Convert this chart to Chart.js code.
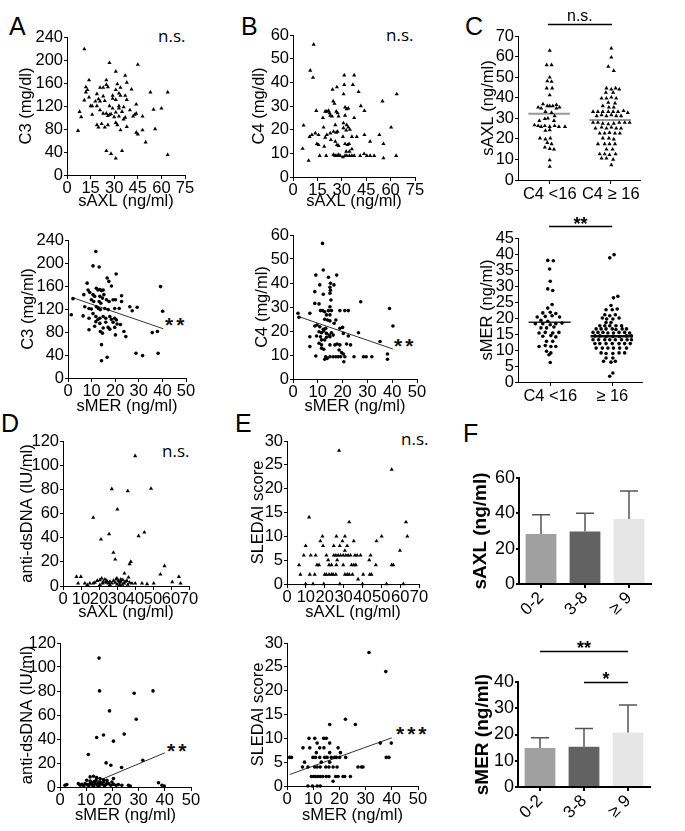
<!DOCTYPE html>
<html>
<head>
<meta charset="utf-8">
<title>sAXL / sMER panels</title>
<script src="https://cdn.jsdelivr.net/npm/chart.js@4.4.1/dist/chart.umd.min.js"></script>
<style>
body { margin: 0; background: #fff; width: 685px; height: 831px; position: relative; overflow: hidden; font-family: "Liberation Sans", Arial, sans-serif; }
canvas { position: absolute; }
.letter { position: absolute; font-size: 25px; line-height: 25px; color: #000; }
.ns { position: absolute; font-family: "Open Sans", sans-serif; font-size: 17px; line-height: 17px; color: #000; }
.stars { position: absolute; font-size: 21px; line-height: 21px; font-weight: bold; color: #111; letter-spacing: 3px; }
</style>
</head>
<body>
<div class="letter" style="left:9px;top:14px">A</div>
<div class="letter" style="left:241px;top:14px">B</div>
<div class="letter" style="left:465px;top:14px">C</div>
<div class="letter" style="left:1px;top:411px">D</div>
<div class="letter" style="left:235px;top:411px">E</div>
<div class="letter" style="left:463px;top:421px">F</div>
<div class="ns" style="left:158px;top:27px">n.s.</div>
<div class="ns" style="left:386px;top:26px">n.s.</div>
<div class="ns" style="left:162px;top:442px">n.s.</div>
<div class="ns" style="left:401px;top:430px">n.s.</div>
<div class="stars" style="left:165px;top:314px">**</div>
<div class="stars" style="left:394px;top:335px">**</div>
<div class="stars" style="left:167px;top:740px">**</div>
<div class="stars" style="left:396px;top:723px">***</div>
<script>
// ---- data ----
// A: C3 vs sAXL / sMER
var c3VsAxl = [[11,219],[27,195],[45,192],[31,180],[37,173],[14,165],[25,165],[32,158],[38,161],[21,152],[23,152],[12,153],[13,148],[25,157],[26,153],[34,152],[41,149],[31,148],[53,144],[64,144],[12,144],[19,141],[14,135],[23,137],[29,138],[29,133],[31,131],[34,138],[37,138],[38,131],[11,130],[20,132],[21,128],[24,129],[15,120],[16,120],[8,110],[19,120],[27,120],[33,120],[33,116],[36,118],[40,113],[44,123],[55,114],[60,116],[9,101],[16,105],[21,113],[25,107],[26,103],[27,105],[28,106],[30,101],[31,109],[33,102],[36,97],[37,100],[42,102],[43,105],[44,107],[48,102],[7,77],[19,87],[20,83],[22,89],[24,83],[26,87],[31,91],[32,87],[34,78],[38,84],[44,74],[45,71],[48,78],[56,80],[50,57],[25,42],[28,37],[31,29],[35,42],[64,35],[23,107],[29,116],[35,110],[18,128],[33,142]];
var c3VsMer = [[11.8,220],[10.6,195],[13.2,193],[20.4,181],[16.6,174],[17.3,168],[18.4,160],[8.1,165],[12,156],[12.7,153],[13.5,154],[14.2,152],[14.9,153],[8.5,153],[9.2,149],[6.7,145],[10.6,145],[11.3,142],[13.5,142],[14.6,139],[22.7,143],[15.2,145],[9.9,136],[10.9,133],[13.2,133],[13.9,130],[16.3,136],[17.4,133],[19.1,136],[20.1,136],[22.7,133],[1.4,110],[2.1,138],[7.1,124],[8.9,121],[9.9,120],[12,124],[12.9,121],[13.7,119],[15.6,121],[17,119],[19.8,121],[21.7,121],[26.2,124],[27.2,117],[29.3,123],[6.4,108],[8.9,104],[10.6,112],[11.8,107],[12.7,102],[13.5,104],[14.9,107],[16,104],[17.7,107],[18.4,102],[19.8,104],[20.5,101],[11.8,98],[13.5,95],[16,97],[19.1,97],[20.8,94],[22.2,93],[40.1,116],[39.2,159],[8.9,84],[11.3,90],[14.9,87],[17,88],[17.7,85],[19.8,88],[23.7,81],[24.5,72],[20.1,75],[13.7,81],[14.6,78],[35.7,79],[37.9,81],[14.2,58],[16.6,36],[14.2,30],[28.8,43],[31.6,39],[38.2,43]];
var c3Fit = [[1.8,140],[40.4,85.6]];

// B: C4 vs sAXL / sMER
var c4VsAxl = [[12.7,56],[10.6,45],[12.3,42],[31.5,43],[37.6,43],[31.5,39],[36.8,39],[24.3,37],[27,38],[40.3,36],[31.1,35],[63.8,35],[24.7,32],[25.5,31],[55,32],[41.7,30],[32,29.5],[33,28.7],[34,29],[43.9,28],[14.3,28],[19.8,27.7],[20.8,27.7],[21.9,28],[22.5,27],[26.6,27.7],[27.4,27],[18.4,25],[22.9,26],[24,25.6],[28,25.6],[32,26],[37.6,25],[31,22.8],[33,22],[34,21],[26,22],[6.5,21.8],[60.3,21],[18.8,21],[24.9,19.2],[26.6,18.8],[27.4,19.2],[31,20.7],[32.7,19.7],[10.2,17],[11.6,17.8],[13.7,18.5],[15.7,17.8],[20.8,17.8],[22.9,18.5],[35,20],[30.7,17],[36.2,17],[39.2,17],[19.8,16.7],[23.3,15.7],[43.9,17.8],[53.1,17.8],[5.9,12],[14.7,14],[15.7,13.6],[19.2,12.9],[26,15],[27,13.6],[28,13.2],[32,14],[33.5,13.6],[34.5,14],[47.4,15],[55.6,14],[9.6,6.9],[16.4,9],[20.4,9],[24.9,9.4],[26,9],[27,9],[28,9.4],[29,9],[30.7,8.4],[32,9],[33,9],[34.7,9],[36.2,9],[37.6,9],[32.7,10.8],[34.7,10.8],[36.2,11.8],[41.3,9],[43.7,9.8],[45.4,9],[47.4,9],[49.9,9],[55.6,8],[63.4,9]];
var c4VsMer = [[11.9,56.5],[12.2,45.4],[9.2,43.3],[17.6,43.3],[14.3,42.4],[15.1,39.9],[10.8,39.2],[16.5,39.2],[14.9,38.2],[15.1,37],[8.8,36.4],[12.2,35.3],[14.9,35.7],[15.3,32.9],[27.3,32.2],[8.8,31.5],[10.5,31.3],[14.9,30.1],[38.9,29.4],[11.1,28.5],[11.9,28.5],[12.8,28],[14.3,28.5],[15.5,28.5],[18.9,28.5],[20.9,28.5],[22.3,28.5],[2,27.4],[6.8,27.4],[13.5,26.7],[14.9,26.7],[2.4,25.7],[12.8,24.9],[13.9,24.6],[14.9,24.2],[17.3,24.6],[16.6,23.2],[8.8,22.1],[9.7,22.5],[10.8,21.8],[40.3,22.1],[12.2,20.7],[13.2,21.1],[18.9,21.1],[20,21.5],[10.5,19.7],[11.5,19.3],[12.4,20],[13.5,19],[14.6,18.3],[15.5,19.3],[20.3,19],[26.4,19.3],[9.5,17.9],[11.1,17.6],[13.5,17.4],[14.9,17.6],[16.2,18.3],[22.3,17.9],[6.8,17.6],[11.5,16.3],[12.8,16.3],[35.1,15.6],[10.5,14.9],[11.5,14.2],[14.9,14.2],[16.9,14.2],[17.8,14.6],[18.9,14.2],[21.6,14.6],[23.2,14.2],[6.8,13.5],[11.5,12.8],[12.4,12.4],[18.6,12.1],[19.6,11],[9.2,9.6],[13.2,9.3],[12.8,8.2],[13.8,8.6],[14.9,9.3],[16.2,9.3],[17.3,9.3],[18.2,9.3],[19.2,9.3],[20.3,10.4],[20.9,9.3],[20.5,7.2],[24.6,9.3],[28.4,9.3],[29.5,9.3],[31.8,9.3],[38.1,10.4],[38.1,8.2]];
var c4Fit = [[2.3,26],[40.3,12.5]];

// C: column scatter, [jitter offset, value]
var groupLabels = ["C4 <16", "C4 \u2265 16"];
var groupLabels2 = ["C4 <16", "\u2265 16"];
var axlLowC4 = [[0,62.9],[-0.05,55.9],[0.03,55.9],[0,49.9],[-0.04,48.1],[0.03,47.8],[-0.05,44.6],[0.04,44.6],[0,41.3],[-0.11,36.9],[-0.04,36],[0,36],[0.05,36],[0.11,36.5],[-0.19,35.3],[-0.14,34.8],[0.11,34.8],[0.16,35.3],[-0.07,33.2],[0.03,32.7],[0.08,31.1],[-0.08,29.7],[-0.03,30],[-0.17,28.8],[0.07,28.8],[-0.25,26.7],[-0.19,26.3],[-0.14,25.9],[-0.08,26.3],[0,25.9],[0.08,26.3],[0.15,25.9],[0.25,25.9],[-0.07,24],[0,24.3],[-0.16,20.3],[-0.07,19.8],[0.01,20.3],[-0.04,18.1],[0.03,17.5],[-0.08,15.9],[0,15.2],[0.07,14.9],[0,9.7],[0,6.5]];
var axlHighC4 = [[0.01,64],[0.01,59.6],[-0.04,55.1],[0.05,53.1],[-0.07,44.6],[0.01,44.1],[0.08,44.6],[0.14,44.1],[-0.08,42.5],[0.04,42.5],[-0.15,39.7],[-0.07,39.7],[0.01,40.2],[0.09,39.7],[-0.04,37.6],[0.07,37.3],[-0.13,36],[-0.03,35.3],[0.05,35.3],[-0.29,33.2],[-0.21,33.2],[-0.13,33.2],[-0.04,33.2],[0.04,33.2],[0.12,33.2],[0.21,33.6],[0.28,32.7],[-0.23,31.1],[-0.15,31.6],[-0.07,31.1],[0.01,31.6],[0.09,31.1],[0.17,31.1],[-0.29,27.9],[-0.21,27.9],[-0.13,27.5],[-0.04,27.2],[0.05,27.5],[0.14,27.9],[0.23,27.9],[0.31,27.9],[-0.25,25.1],[-0.15,25.6],[-0.07,25.1],[0.01,25.6],[0.09,25.1],[0.17,25.1],[-0.18,22.7],[-0.1,22.7],[-0.02,23],[0.07,22.7],[0.15,22.7],[-0.13,20.3],[-0.03,20.3],[0.05,19.8],[-0.21,17.5],[-0.1,17.5],[-0.02,17.5],[0.07,17.5],[-0.07,14.9],[0.03,14.9],[-0.18,12.6],[-0.1,12.6],[-0.02,12.2],[0.08,12.6],[-0.15,10.5],[-0.07,10.5],[0.04,10],[0.01,7.3]];
var axlMeans = [32.2, 29.2];
var merLowC4 = [[-0.04,38],[0.05,37.9],[-0.01,35.3],[0,31.5],[-0.04,29.1],[0.04,28.6],[0.03,24.2],[-0.04,23.1],[-0.12,21.6],[0,21.8],[0.09,21.4],[-0.21,20.3],[-0.08,20.5],[0.03,20.7],[0.15,20.3],[-0.15,19.3],[-0.04,19],[-0.24,18.2],[-0.12,18.2],[0,17.9],[0.09,18.2],[0.19,18.4],[-0.15,16.9],[-0.06,16.9],[0.06,17.2],[-0.18,15.3],[-0.08,15.5],[0.04,15.3],[0.14,15.5],[-0.12,14.3],[0.01,14.5],[0.09,14.1],[-0.06,12.7],[0.04,12.7],[-0.18,11.1],[-0.08,11.4],[0.01,11.1],[0.09,11.1],[-0.06,9.6],[0.01,9.1],[-0.02,8.5],[0,6.1]];
var merHighC4 = [[-0.04,38.8],[0.03,39.8],[0.02,26.3],[0.09,26.8],[-0.02,23.9],[-0.1,22.6],[0,22.6],[0.08,22.8],[-0.12,21],[-0.04,20.7],[0.05,21],[-0.16,20],[-0.09,19.7],[0.01,19.7],[0.11,20],[-0.1,18.6],[-0.02,18.6],[-0.2,17.6],[-0.12,17.6],[-0.04,17.6],[0.06,17.6],[0.15,17.6],[-0.26,16.6],[-0.18,16.6],[-0.1,16.6],[0,16.6],[0.06,16.4],[0.16,16.6],[0.23,16.6],[-0.31,15.5],[-0.23,15.5],[-0.15,15.5],[-0.07,15.3],[0.02,15.3],[0.11,15.5],[0.2,15.5],[0.28,15.3],[-0.28,14.4],[-0.2,14.4],[-0.1,14.2],[0.01,14.2],[0.12,14.2],[0.23,14.4],[0.31,14.4],[-0.31,13.2],[-0.22,13.2],[-0.12,13.2],[-0.04,13.2],[0.05,13.2],[0.15,13.2],[0.24,13.2],[0.31,13.2],[-0.28,12],[-0.2,12],[-0.1,12],[0,12],[0.11,12],[0.2,12],[0.29,12],[-0.26,10.6],[-0.16,10.6],[-0.07,10.6],[0.02,10.6],[0.12,10.6],[0.23,10.6],[-0.18,9.1],[-0.1,8.9],[0.01,8.9],[0.11,9.1],[0.2,9.1],[-0.1,7.5],[0.01,7.5],[-0.14,6.5],[-0.02,6.2],[0.05,6.5],[0.01,2.8],[-0.04,1.8]];
var merMeans = [18.7, 14.3];

// D: anti-dsDNA
var dnaVsAxl = [[40.1,107.6],[27.1,80.3],[36,78.6],[48.9,80.6],[30.2,63.4],[16.8,56.6],[25.6,43],[45.2,44.4],[42,41.4],[21.1,38.6],[28,27.6],[29,22],[37.7,20.1],[37,18.2],[56.4,16.6],[34.1,10.5],[54.1,9.7],[7.5,7.7],[9.9,7.7],[64.4,7.7],[36.4,7.2],[20.5,5],[22.4,3.6],[24.3,4.4],[26.1,3.6],[28,4.4],[29.5,5.5],[30.8,4.4],[32.1,3.6],[33.2,5],[34.5,3.6],[35.5,4.4],[37,2.8],[38.3,2.2],[40.1,2.2],[43.9,2.2],[46.7,1.7],[50.4,2.2],[12.1,2.2],[14.9,2.2],[8.4,2.2],[17.7,2.8],[19,4.4],[21.5,6.3],[23.3,5.5],[25.2,2.2],[27.1,2.2],[28.9,2.8],[31.4,2.8],[34,2.2],[16.8,2.2],[65.3,2.2],[60.7,3.3],[32.1,5.5],[29.9,6.3],[13.5,1],[20.5,1],[26,1],[31.5,1],[24,2.8],[22,2.2],[36,1.2],[30,1.5],[33,1.2]];
var dnaVsMer = [[14.9,107.4],[15.1,80.1],[28.3,78.1],[35.5,80.1],[18.9,63.4],[29.1,56.4],[16.6,43.3],[24.5,44.1],[14,41.3],[20.4,38.2],[10.8,27.1],[17.6,20.1],[19.4,18.1],[23.5,16.2],[31.6,22.3],[12.8,8.9],[14,7.8],[15.3,7],[10.2,5.6],[11.5,5],[16.6,6.1],[17.9,5.6],[20.4,7],[19.8,4.2],[1.9,1.4],[2.6,2],[7,2.8],[7.7,1.4],[8.3,2.2],[9.6,2.8],[10.5,2],[11.5,2.8],[12.5,1.4],[13.4,2.8],[14.3,1.4],[15.3,2.2],[15.9,2.8],[16.8,1.4],[17.6,2.2],[18.5,2.8],[19.4,1.4],[20.4,2.2],[21.4,1.4],[22.3,2],[23.6,1.4],[26.1,1.4],[26.8,0.8],[37.6,3.6],[38.9,1.4],[39.8,0.8],[15.3,4.2],[16.6,4.2],[11.5,8.4],[12,3.5],[13,4.5],[14.5,3.2],[12.8,0.6],[14.8,0.6],[17,0.8],[18,3.6],[11,1],[9,1.2],[13.8,5.8]];
var dnaFit = [[9.5,0.5],[40,28.5]];

// E: SLEDAI score
var sledaiVsAxl = [[27.6,28],[55.5,24],[11.7,14],[33,13],[63.1,13],[50.2,10],[63.8,10],[18.8,10],[26.2,10],[30.7,10],[17.7,9],[29.4,9],[35.4,9],[47.5,9],[9.9,8],[19.1,8],[24.8,8],[28,8],[31.9,8],[30.7,7],[59.9,7],[8.9,6],[12.6,6],[15.2,6],[20.9,6],[24.8,6],[25.9,6],[27.1,6],[28.4,6],[29.8,6],[31.2,6],[32.4,6],[33.7,6],[36,6],[37.2,6],[39,6],[44.3,6],[21.8,5],[26.6,5],[43.6,5],[6.4,4],[15.9,4],[17,4],[22.3,4],[23.6,4],[26.2,4],[29.8,4],[34.2,4],[35.4,4],[36.5,4],[47.1,4],[55.5,4],[56.4,4],[7.1,2],[12.1,2],[14.7,2],[20,2],[20.9,2],[22.3,2],[23.6,2],[24.5,2],[25.9,2],[30.7,2],[31.9,2],[33,2],[34.7,2],[40.4,2],[43.9,2],[44.8,2],[37.7,1],[9.9,0],[13.8,0],[19.5,0],[28,0],[40,0],[52.8,0],[61.7,0]];
var sledaiVsMer = [[31.3,28],[37.7,24],[22.3,14],[26.1,12.9],[16.3,12.9],[39.8,9],[35.6,9],[37.9,6],[38.9,6],[8.4,10],[10.6,10],[14,10],[15,10],[11.5,9],[16.3,9],[6.1,8],[8.7,8],[12.5,8],[14.1,8],[19.5,8],[11.2,7],[16.3,7],[20.4,7],[1,6],[1.7,6],[9.9,6],[10.9,6],[12.5,6],[14.4,6],[15.3,6],[16.9,6],[18.2,6],[18.8,6],[20.1,6],[22.4,6],[6.7,5],[13.1,5],[16.3,5],[5.9,4],[8,4],[10.6,4],[11.5,4],[12.7,4],[14.8,4],[16,4],[17.6,4],[19.1,4],[27.1,4],[28.4,4],[29,4],[9.3,2],[10.2,2],[10.9,2],[11.8,2],[12.7,2],[13.7,2],[15,2],[16,2],[18.6,2],[19.5,2],[21.4,2],[22,2],[24.2,2],[17.6,1],[8,0],[9.7,0],[11.5,0],[12.7,0]];
var sledaiFit = [[1,2.4],[40,10.1]];

// F: bars by SLEDAI group
var sledaiGroups = ["0-2", "3-8", "\u2265 9"];
var fAxlMean = [28.3, 29.7, 36.8];
var fAxlUpper = [39.2, 40, 52.7];
var fMerMean = [14.9, 15.3, 20.8];
var fMerUpper = [18.8, 22.3, 31.2];
var barColors = ["#a0a0a0", "#626262", "#e6e6e6"];

// ---- drawing ----
var FS = 16.5;
Chart.defaults.font.family = '"Liberation Sans", Arial, sans-serif';
Chart.defaults.color = "#000";
Chart.defaults.animation = false;

function pts(arr, base) {
	return arr.map(function (p) { return { x: (base || 0) + p[0], y: p[1] }; });
}

var extras = {
	id: "extras",
	afterDatasetsDraw: function (chart, args, opts) {
		var ctx = chart.ctx, xs = chart.scales.x, ys = chart.scales.y;
		ctx.save();
		if (opts.upper) {
			var meta = chart.getDatasetMeta(0);
			ctx.strokeStyle = "#555";
			ctx.lineWidth = 1.5;
			meta.data.forEach(function (bar, i) {
				var yt = ys.getPixelForValue(opts.upper[i]);
				ctx.beginPath();
				ctx.moveTo(bar.x, bar.y);
				ctx.lineTo(bar.x, yt);
				ctx.moveTo(bar.x - 9, yt);
				ctx.lineTo(bar.x + 9, yt);
				ctx.stroke();
			});
		}
		(opts.sig || []).forEach(function (s) {
			var y = Math.round(ys.getPixelForValue(s.at)) + 0.5;
			var x1 = xs.getPixelForValue(s.from), x2 = xs.getPixelForValue(s.to);
			ctx.strokeStyle = "#000";
			ctx.lineWidth = 1.5;
			ctx.beginPath();
			ctx.moveTo(x1, y);
			ctx.lineTo(x2, y);
			ctx.stroke();
			ctx.fillStyle = "#000";
			ctx.font = s.font;
			ctx.textAlign = "center";
			ctx.textBaseline = "alphabetic";
			ctx.fillText(s.text, (x1 + x2) / 2, y - s.lift);
		});
		ctx.restore();
	}
};

function panel(o) {
	var cv = document.createElement("canvas");
	cv.width = o.box[2];
	cv.height = o.box[3];
	cv.style.left = o.box[0] + "px";
	cv.style.top = o.box[1] + "px";
	document.body.appendChild(cv);

	var yW = o.area[0] - o.box[0];
	var padT = o.area[1] - o.box[1];
	var padR = o.box[0] + o.box[2] - o.area[2];
	var xH = o.box[1] + o.box[3] - o.area[3];
	var tf = o.tickSize || FS;
	var yTitleFont = o.yTitleFont || { size: FS };
	var yLine = yTitleFont.size * 1.2;
	var bw = o.axisWidth || 1;

	var xScale = Object.assign({
		border: { color: "#000", width: bw },
		grid: { display: true, drawOnChartArea: false, drawTicks: true, tickLength: 4, color: "#000", lineWidth: bw, offset: false },
		afterFit: function (s) { s.height = xH; }
	}, o.x);
	if (o.xTitle) {
		xScale.title = { display: true, text: o.xTitle, font: { size: FS }, padding: { top: 0, bottom: o.box[1] + o.box[3] - o.xTitleY - FS * 0.6 } };
	}
	var yScale = {
		type: "linear", min: 0, max: o.yMax,
		border: { color: "#000", width: bw },
		grid: { display: true, drawOnChartArea: false, drawTicks: true, tickLength: 3, color: "#000", lineWidth: bw },
		ticks: { stepSize: o.yStep, autoSkip: false, padding: 1, font: { size: tf } },
		title: { display: true, text: o.yTitle, font: yTitleFont, padding: { top: o.yTitleX - o.box[0] - yLine / 2, bottom: 0 } },
		afterFit: function (s) { s.width = yW; }
	};

	return new Chart(cv.getContext("2d"), {
		type: o.type || "scatter",
		data: { labels: o.labels, datasets: o.datasets },
		options: {
			responsive: false,
			layout: { padding: { left: 0, top: padT, right: padR, bottom: 0 }, autoPadding: false },
			scales: { x: xScale, y: yScale },
			plugins: { legend: { display: false }, tooltip: { enabled: false }, extras: o.extras || {} }
		},
		plugins: [extras]
	});
}

function dots(arr, style, base) {
	return {
		data: pts(arr, base), pointStyle: style, pointRadius: style === "triangle" ? 2.4 : 1.8,
		backgroundColor: "#000", borderWidth: 0, clip: false
	};
}
function fitLine(arr, color, width) {
	return {
		data: pts(arr), showLine: true, pointRadius: 0, borderColor: color || "#333",
		borderWidth: width || 1, clip: false
	};
}
function meanLine(v, base, color, width) {
	return fitLine([[base - 0.35, v], [base + 0.33, v]], color, width);
}

var lin = function (max, step) { return { type: "linear", min: 0, max: max, ticks: { stepSize: step, autoSkip: false, maxRotation: 0, padding: 0, font: { size: FS } } }; };
var groupAxis = function (labels) {
	return {
		type: "linear", min: -0.52, max: 1.48,
		afterBuildTicks: function (s) { s.ticks = [{ value: 0 }, { value: 1 }]; },
		ticks: { autoSkip: false, maxRotation: 0, padding: 1, font: { size: FS }, callback: function (v) { return labels[v]; } }
	};
};

// A
panel({ box: [0, 15, 232, 200], area: [67, 37, 185, 175], yMax: 240, yStep: 40, yTitle: "C3 (mg/dl)", yTitleX: 26,
	x: lin(75, 15), xTitle: "sAXL (ng/ml)", xTitleY: 201, datasets: [dots(c3VsAxl, "triangle")] });
panel({ box: [0, 215, 232, 200], area: [68, 240, 186, 378], yMax: 240, yStep: 40, yTitle: "C3 (mg/ml)", yTitleX: 28,
	x: lin(50, 10), xTitle: "sMER (ng/ml)", xTitleY: 406, datasets: [dots(c3VsMer, "circle"), fitLine(c3Fit)] });
// B
panel({ box: [230, 15, 232, 200], area: [293, 35, 415, 177], yMax: 60, yStep: 10, yTitle: "C4 (mg/dl)", yTitleX: 259,
	x: lin(75, 15), xTitle: "sAXL (ng/ml)", xTitleY: 201, datasets: [dots(c4VsAxl, "triangle")] });
panel({ box: [230, 215, 232, 200], area: [293, 235, 417, 379], yMax: 60, yStep: 10, yTitle: "C4 (mg/ml)", yTitleX: 262,
	x: lin(50, 10), xTitle: "sMER (ng/ml)", xTitleY: 406, datasets: [dots(c4VsMer, "circle"), fitLine(c4Fit)] });
// C
panel({ box: [460, 0, 225, 205], area: [518, 36, 640, 180], yMax: 70, yStep: 10, yTitle: "sAXL (ng/ml)", yTitleX: 488,
	x: groupAxis(groupLabels),
	datasets: [dots(axlLowC4, "triangle", 0), dots(axlHighC4, "triangle", 1),
		meanLine(axlMeans[0], 0, "#999", 2), meanLine(axlMeans[1], 1, "#999", 2)],
	extras: { sig: [{ from: -0.03, to: 1.02, at: 75.8, text: "n.s.", font: "16px 'Liberation Sans', Arial", lift: 4 }] } });
panel({ box: [460, 205, 225, 205], area: [518, 238, 642, 382], yMax: 45, yStep: 5, yTitle: "sMER (ng/ml)", yTitleX: 487,
	x: groupAxis(groupLabels2),
	datasets: [dots(merLowC4, "circle", 0), dots(merHighC4, "circle", 1),
		meanLine(merMeans[0], 0, "#222", 1.5), meanLine(merMeans[1], 1, "#111", 2.5)],
	extras: { sig: [{ from: -0.02, to: 1.0, at: 48.75, text: "**", font: "bold 18px 'Liberation Sans', Arial", lift: -3 }] } });
// D
panel({ box: [0, 420, 232, 202], area: [63, 441, 189, 586], yMax: 120, yStep: 20, yTitle: "anti-dsDNA (IU/ml)", yTitleX: 27,
	x: lin(70, 10), xTitle: "sAXL (ng/ml)", xTitleY: 612, datasets: [dots(dnaVsAxl, "triangle")] });
panel({ box: [0, 625, 232, 206], area: [60, 643, 191, 787], yMax: 120, yStep: 20, yTitle: "anti-dsDNA (IU/ml)", yTitleX: 27,
	x: lin(50, 10), xTitle: "sMER (ng/ml)", xTitleY: 815, datasets: [dots(dnaVsMer, "circle"), fitLine(dnaFit)] });
// E
panel({ box: [230, 420, 232, 202], area: [287, 441, 419, 584], yMax: 30, yStep: 5, yTitle: "SLEDAI score", yTitleX: 258,
	x: lin(70, 10), xTitle: "sAXL (ng/ml)", xTitleY: 612, datasets: [dots(sledaiVsAxl, "triangle")] });
panel({ box: [230, 625, 232, 206], area: [287, 643, 418, 786], yMax: 30, yStep: 5, yTitle: "SLEDAI score", yTitleX: 258,
	x: lin(50, 10), xTitle: "sMER (ng/ml)", xTitleY: 815, datasets: [dots(sledaiVsMer, "circle"), fitLine(sledaiFit)] });
// F
var barAxis = { type: "category", ticks: { autoSkip: false, minRotation: 45, maxRotation: 45, padding: 0, font: { size: 17 } } };
function barSet(vals) {
	return { data: vals, backgroundColor: barColors, borderWidth: 0, categoryPercentage: 1, barPercentage: 0.7 };
}
panel({ type: "bar", box: [460, 420, 225, 201], area: [519, 478, 651, 584], yMax: 60, yStep: 20, yTitle: "sAXL (ng/ml)",
	yTitleX: 481, yTitleFont: { size: 19, weight: "bold" }, tickSize: 18, axisWidth: 2,
	labels: sledaiGroups, x: barAxis, datasets: [barSet(fAxlMean)], extras: { upper: fAxlUpper } });
panel({ type: "bar", box: [460, 630, 225, 201], area: [518, 682, 650, 787], yMax: 40, yStep: 10, yTitle: "sMER (ng/ml)",
	yTitleX: 483, yTitleFont: { size: 19, weight: "bold" }, tickSize: 18, axisWidth: 2,
	labels: sledaiGroups, x: barAxis, datasets: [barSet(fMerMean)],
	extras: { upper: fMerUpper, sig: [
		{ from: 0, to: 2, at: 51.8, text: "**", font: "bold 18px 'Liberation Sans', Arial", lift: -2 },
		{ from: 1, to: 2, at: 40, text: "*", font: "bold 18px 'Liberation Sans', Arial", lift: -2 }] } });
</script>
</body>
</html>
